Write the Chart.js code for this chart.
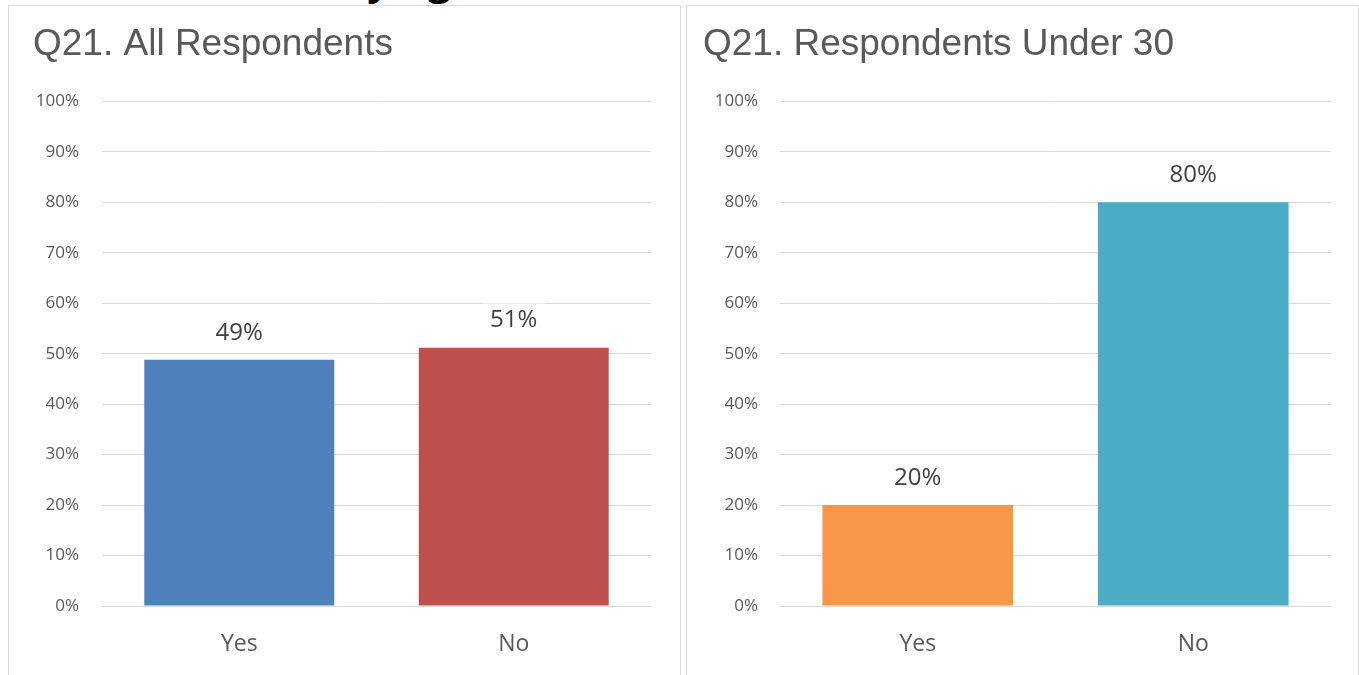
<!DOCTYPE html>
<html>
<head>
<meta charset="utf-8">
<script src="https://cdn.jsdelivr.net/npm/chart.js@4.4.1/dist/chart.umd.min.js"></script>
<style>
  html, body { margin: 0; padding: 0; background: #fff; overflow: hidden; }
  body { width: 1359px; height: 675px; position: relative; }
  .panel {
    position: absolute; top: 5px; width: 671px; height: 680px;
    border: 1px solid #d9d9d9; border-bottom: none; background: #fff;
  }
  #panelLeft { left: 8px; }
  #panelRight { left: 686px; }
  .panel canvas { display: block; }
  #pageTitle {
    position: absolute; left: 342px; top: -48px;
    font: bold 40px "Open Sans", sans-serif; color: #000; white-space: nowrap;
  }
</style>
</head>
<body>
<div id="pageTitle">by Age</div>
<div class="panel" id="panelLeft"><canvas id="chartAll" width="671" height="669"></canvas></div>
<div class="panel" id="panelRight"><canvas id="chartUnder30" width="671" height="669"></canvas></div>
<script>
// ---- data ----
const categories = ['Yes', 'No'];
const allRespondents = [48.8, 51.2];
const under30 = [20, 80];
const yTicks = [0, 10, 20, 30, 40, 50, 60, 70, 80, 90, 100];

const COLORS_ALL = ['#4f81bd', '#c0504d'];
const COLORS_UNDER30 = ['#f79646', '#4bacc6'];

const GRID = '#d9d9d9';
const TEXT = '#595959';
const SANS = '"Open Sans", sans-serif';

// value labels with a white box behind them (covers the gridline)
const valueLabels = {
  id: 'valueLabels',
  afterDatasetsDraw(chart) {
    const { ctx } = chart;
    const meta = chart.getDatasetMeta(0);
    const values = chart.data.datasets[0].data;
    ctx.save();
    ctx.font = '24px ' + SANS;
    ctx.textAlign = 'center';
    ctx.textBaseline = 'middle';
    meta.data.forEach((bar, i) => {
      const txt = Math.round(values[i]) + '%';
      const w = ctx.measureText(txt).width + 16;
      const cy = bar.y - 27;
      ctx.fillStyle = '#fff';
      ctx.fillRect(bar.x - w / 2, cy - 17, w, 34);
      ctx.fillStyle = '#404040';
      ctx.fillText(txt, bar.x, cy);
    });
    ctx.restore();
  }
};

function makeChart(id, title, values, colors, pad) {
  return new Chart(document.getElementById(id), {
    type: 'bar',
    data: {
      labels: categories,
      datasets: [{
        data: values,
        backgroundColor: colors,
        borderWidth: 0,
        categoryPercentage: 1,
        barPercentage: 0.692
      }]
    },
    options: {
      responsive: false,
      animation: false,
      layout: { padding: { left: pad.left, right: pad.right, top: 0, bottom: 0 } },
      scales: {
        x: {
          grid: { display: false },
          border: { display: false },
          ticks: { color: TEXT, font: { family: SANS, size: 23 }, padding: 17 },
          afterFit: (s) => { s.height = 69; }
        },
        y: {
          min: 0, max: 100,
          afterBuildTicks: (s) => { s.ticks = yTicks.map(v => ({ value: v })); },
          grid: { color: GRID, lineWidth: 1, drawTicks: false },
          border: { display: false },
          ticks: {
            color: TEXT, font: { family: SANS, size: 17 }, padding: pad.tick,
            callback: (v) => v + '%'
          },
          afterFit: (s) => { s.width = pad.axis; }
        }
      },
      plugins: {
        legend: { display: false },
        tooltip: { enabled: false },
        title: {
          display: true, text: title, align: 'start', color: TEXT,
          font: { family: '"Liberation Sans", Arial, sans-serif', size: 37, weight: 'normal' },
          padding: { top: 17, bottom: 34 }
        }
      }
    },
    plugins: [valueLabels]
  });
}

makeChart('chartAll', 'Q21. All Respondents', allRespondents, COLORS_ALL,
  { left: 24, right: 29, axis: 69, tick: 23 });
makeChart('chartUnder30', 'Q21. Respondents Under 30', under30, COLORS_UNDER30,
  { left: 16, right: 27, axis: 77, tick: 22 });
</script>
</body>
</html>
